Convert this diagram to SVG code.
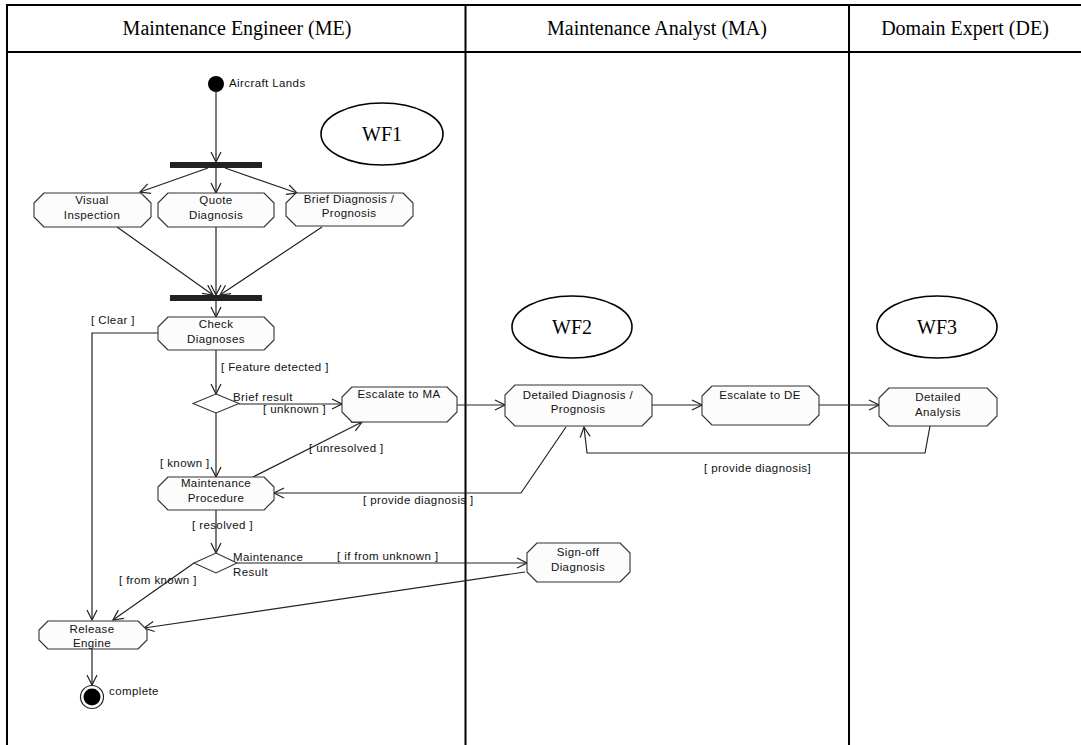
<svg xmlns="http://www.w3.org/2000/svg" width="1081" height="745" viewBox="0 0 1081 745">
<style>
.lane{stroke:#000;stroke-width:2;fill:none}
.hdr{font-family:"Liberation Serif",serif;font-size:20px;fill:#000;text-anchor:middle}
.wf{font-family:"Liberation Serif",serif;font-size:20px;fill:#000;text-anchor:middle}
.ell{fill:#fff;stroke:#000;stroke-width:1.6}
.act{fill:#fcfcfc;stroke:#333;stroke-width:1.1;stroke-linejoin:round}
.t{font-family:"Liberation Sans",Arial,sans-serif;font-size:11.5px;letter-spacing:0.4px;fill:#111}
.c{text-anchor:middle}
.cn{fill:none;stroke:#222;stroke-width:1.2}
.bar{fill:#222}
.dia{fill:#fff;stroke:#333;stroke-width:1.1}
</style>
<defs>
<marker id="ah" markerUnits="userSpaceOnUse" markerWidth="12" markerHeight="12" viewBox="0 0 12 12" refX="11" refY="6" orient="auto">
<path d="M1,1 L11,6 L1,11" fill="none" stroke="#222" stroke-width="1.2"/>
</marker>
</defs>
<rect width="1081" height="745" fill="#fff"/>
<g id="swimlanes">
<line class="lane" x1="7" y1="5" x2="1081" y2="5"/>
<line class="lane" x1="7" y1="52" x2="1081" y2="52"/>
<line class="lane" x1="7" y1="4" x2="7" y2="745"/>
<line class="lane" x1="465.5" y1="5" x2="465.5" y2="745"/>
<line class="lane" x1="849" y1="5" x2="849" y2="745"/>
<text class="hdr" x="237" y="35">Maintenance Engineer (ME)</text>
<text class="hdr" x="657" y="35">Maintenance Analyst (MA)</text>
<text class="hdr" x="965" y="35">Domain Expert (DE)</text>
</g>
<g id="wf1"><ellipse class="ell" cx="382" cy="134" rx="61" ry="31"/><text class="wf" x="382" y="141">WF1</text></g>
<g id="wf2"><ellipse class="ell" cx="572" cy="327" rx="60" ry="31"/><text class="wf" x="572" y="334">WF2</text></g>
<g id="wf3"><ellipse class="ell" cx="937" cy="327" rx="60" ry="31"/><text class="wf" x="937" y="334">WF3</text></g>
<g id="connectors">
<line class="cn" x1="216" y1="92" x2="216" y2="162" marker-end="url(#ah)"/>
<line class="cn" x1="208" y1="168" x2="140" y2="192" marker-end="url(#ah)"/>
<line class="cn" x1="216" y1="168" x2="216" y2="193" marker-end="url(#ah)"/>
<line class="cn" x1="225" y1="168" x2="297" y2="193" marker-end="url(#ah)"/>
<line class="cn" x1="117" y1="227" x2="213" y2="295" marker-end="url(#ah)"/>
<line class="cn" x1="216" y1="227" x2="216" y2="295" marker-end="url(#ah)"/>
<line class="cn" x1="322" y1="227" x2="220" y2="295" marker-end="url(#ah)"/>
<line class="cn" x1="216" y1="301" x2="216" y2="317" marker-end="url(#ah)"/>
<polyline class="cn" points="158,333 92,333 92,620" marker-end="url(#ah)"/>
<line class="cn" x1="216" y1="350" x2="216" y2="394" marker-end="url(#ah)"/>
<line class="cn" x1="239" y1="404" x2="342" y2="404" marker-end="url(#ah)"/>
<line class="cn" x1="216" y1="413" x2="216" y2="477" marker-end="url(#ah)"/>
<line class="cn" x1="253" y1="477" x2="362" y2="422" marker-end="url(#ah)"/>
<line class="cn" x1="457" y1="405" x2="505" y2="405" marker-end="url(#ah)"/>
<line class="cn" x1="652" y1="405" x2="702" y2="405" marker-end="url(#ah)"/>
<line class="cn" x1="819" y1="405" x2="879" y2="405" marker-end="url(#ah)"/>
<polyline class="cn" points="930,426 925,453 587,453 584,427" marker-end="url(#ah)"/>
<polyline class="cn" points="566,427 521,493 274,493" marker-end="url(#ah)"/>
<line class="cn" x1="216" y1="510" x2="216" y2="553" marker-end="url(#ah)"/>
<line class="cn" x1="237" y1="563" x2="527" y2="563" marker-end="url(#ah)"/>
<line class="cn" x1="194" y1="563" x2="113" y2="620" marker-end="url(#ah)"/>
<line class="cn" x1="525" y1="572" x2="144" y2="628" marker-end="url(#ah)"/>
<line class="cn" x1="92" y1="649" x2="92" y2="685" marker-end="url(#ah)"/>
<text class="t" x="91" y="324">[ Clear ]</text>
<text class="t" x="221" y="371">[ Feature detected ]</text>
<text class="t" x="233" y="401">Brief result</text>
<text class="t" x="263" y="413">[ unknown ]</text>
<text class="t" x="160" y="467">[ known ]</text>
<text class="t" x="309" y="452">[ unresolved ]</text>
<text class="t" x="363" y="504">[ provide diagnosis ]</text>
<text class="t" x="704" y="472">[ provide  diagnosis]</text>
<text class="t" x="192" y="529">[ resolved ]</text>
<text class="t" x="233" y="561">Maintenance</text>
<text class="t" x="233" y="576">Result</text>
<text class="t" x="337" y="560">[ if from unknown ]</text>
<text class="t" x="119" y="584">[ from known ]</text>
</g>
<g id="start"><circle cx="216" cy="84" r="8" fill="#000"/><text class="t" x="229" y="87">Aircraft Lands</text></g>
<g id="fork"><rect class="bar" x="170" y="162" width="92" height="6"/></g>
<g id="join"><rect class="bar" x="170" y="295" width="92" height="6"/></g>
<g id="visual-inspection"><path class="act" d="M44,193 H141 L151,203 V217 L141,227 H44 L34,217 V203 Z"/><text class="t c" x="92" y="204">Visual</text><text class="t c" x="92" y="219">Inspection</text></g>
<g id="quote-diagnosis"><path class="act" d="M168,193 H264 L274,203 V217 L264,227 H168 L158,217 V203 Z"/><text class="t c" x="216" y="204">Quote</text><text class="t c" x="216" y="219">Diagnosis</text></g>
<g id="brief-diagnosis"><path class="act" d="M296,193 H403 L413,203 V216 L403,226 H296 L286,216 V203 Z"/><text class="t c" x="349" y="203">Brief Diagnosis /</text><text class="t c" x="349" y="217">Prognosis</text></g>
<g id="check-diagnoses"><path class="act" d="M168,317 H264 L274,327 V340 L264,350 H168 L158,340 V327 Z"/><text class="t c" x="216" y="328">Check</text><text class="t c" x="216" y="343">Diagnoses</text></g>
<g id="brief-result"><polygon class="dia" points="216,394 239,403.5 216,413 193,403.5"/></g>
<g id="escalate-ma"><path class="act" d="M352,387 H447 L457,397 V412 L447,422 H352 L342,412 V397 Z"/><text class="t c" x="399" y="398">Escalate to MA</text></g>
<g id="maintenance-procedure"><path class="act" d="M168,477 H264 L274,487 V500 L264,510 H168 L158,500 V487 Z"/><text class="t c" x="216" y="487">Maintenance</text><text class="t c" x="216" y="502">Procedure</text></g>
<g id="maintenance-result"><polygon class="dia" points="216,553 237,563 216,573 194,563"/></g>
<g id="detailed-diagnosis"><path class="act" d="M515,385 H642 L652,395 V416 L642,426 H515 L505,416 V395 Z"/><text class="t c" x="578" y="399">Detailed Diagnosis /</text><text class="t c" x="578" y="413">Prognosis</text></g>
<g id="escalate-de"><path class="act" d="M712,386 H809 L819,396 V415 L809,425 H712 L702,415 V396 Z"/><text class="t c" x="760" y="399">Escalate to DE</text></g>
<g id="detailed-analysis"><path class="act" d="M889,388 H987 L997,398 V416 L987,426 H889 L879,416 V398 Z"/><text class="t c" x="938" y="401">Detailed</text><text class="t c" x="938" y="416">Analysis</text></g>
<g id="sign-off"><path class="act" d="M537,543 H620 L630,553 V572 L620,582 H537 L527,572 V553 Z"/><text class="t c" x="578" y="556">Sign-off</text><text class="t c" x="578" y="571">Diagnosis</text></g>
<g id="release-engine"><path class="act" d="M48,621 H138 L147,630 V640 L138,649 H48 L39,640 V630 Z"/><text class="t c" x="92" y="633">Release</text><text class="t c" x="92" y="647">Engine</text></g>
<g id="end"><circle cx="92" cy="697" r="11.5" fill="#fff" stroke="#222" stroke-width="1.2"/><circle cx="92" cy="697" r="8.5" fill="#000"/><text class="t" x="109" y="695">complete</text></g>
</svg>
